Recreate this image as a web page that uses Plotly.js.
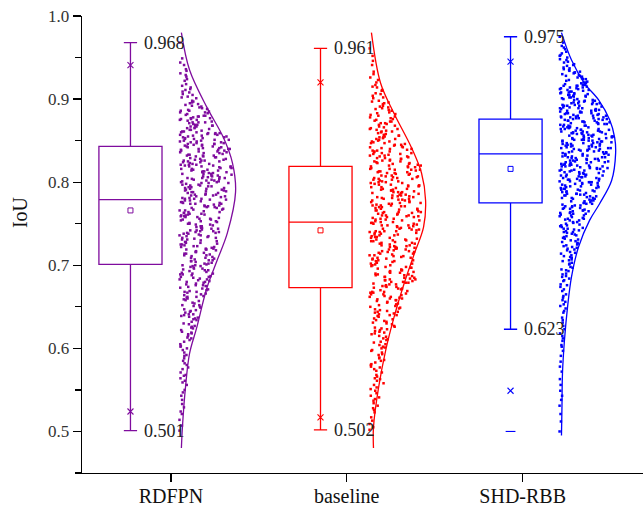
<!DOCTYPE html>
<html>
<head>
<meta charset="utf-8">
<script src="https://cdn.plot.ly/plotly-3.0.1.min.js"></script>
<style>html,body{margin:0;padding:0;background:#fff;}#chart{width:643px;height:508px;}</style>
</head>
<body>
<div id="chart"></div>
<script>
// ---------- data ----------
const categories = ['RDFPN', 'baseline', 'SHD-RBB'];
const q1Vals = [0.701, 0.673, 0.775];
const medianVals = [0.779, 0.752, 0.834];
const q3Vals = [0.843, 0.819, 0.876];
const meanVals = [0.766, 0.742, 0.816];
const lowerWhisker = [0.501, 0.502, 0.623];
const upperWhisker = [0.968, 0.961, 0.975];
const p1Vals = [0.524, 0.517, 0.549];
const p99Vals = [0.941, 0.920, 0.945];
const minVals = [0.501, 0.502, 0.500];
const maxVals = [0.968, 0.961, 0.975];

const rdfpnPoints = [0.501,0.514,
0.524,0.529,0.538,
0.543,0.547,0.556,
0.561,0.567,0.568,0.577,
0.582,0.585,0.591,0.592,0.598,
0.602,0.603,0.608,0.612,0.613,0.617,0.619,
0.620,0.624,0.625,0.627,0.630,0.634,0.635,0.636,0.639,
0.641,0.641,0.644,0.646,0.647,0.650,0.652,0.652,0.655,0.658,0.659,
0.660,0.662,0.662,0.664,0.667,0.668,0.668,0.671,0.673,0.674,0.676,0.676,0.678,0.679,
0.680,0.681,0.683,0.683,0.685,0.686,0.687,0.689,0.690,0.690,0.692,0.694,0.695,0.696,0.697,0.699,0.699,
0.700,0.701,0.702,0.703,0.705,0.706,0.706,0.708,0.709,0.710,0.712,0.713,0.714,0.715,0.716,0.717,0.719,0.719,
0.720,0.721,0.722,0.723,0.724,0.725,0.727,0.727,0.728,0.729,0.731,0.732,0.733,0.734,0.735,0.736,0.737,0.738,0.739,
0.740,0.741,0.741,0.742,0.743,0.744,0.745,0.746,0.747,0.748,0.749,0.750,0.751,0.753,0.754,0.755,0.756,0.757,0.758,0.759,
0.760,0.761,0.761,0.762,0.763,0.764,0.765,0.766,0.767,0.768,0.769,0.770,0.771,0.772,0.773,0.774,0.774,0.775,0.776,0.777,0.778,0.779,
0.780,0.780,0.781,0.782,0.783,0.784,0.785,0.785,0.786,0.787,0.788,0.789,0.790,0.791,0.792,0.792,0.793,0.794,0.795,0.796,0.797,0.798,0.799,0.799,
0.800,0.801,0.801,0.802,0.803,0.804,0.805,0.805,0.806,0.807,0.808,0.809,0.810,0.810,0.811,0.812,0.813,0.814,0.815,0.815,0.816,0.817,0.818,0.819,0.819,
0.820,0.821,0.821,0.822,0.823,0.824,0.825,0.826,0.826,0.827,0.828,0.829,0.830,0.831,0.832,0.832,0.833,0.834,0.835,0.836,0.837,0.838,0.838,0.839,
0.840,0.840,0.841,0.842,0.843,0.843,0.844,0.845,0.846,0.846,0.847,0.848,0.849,0.850,0.850,0.851,0.852,0.853,0.854,0.854,0.855,0.856,0.857,0.858,0.859,0.859,
0.860,0.861,0.861,0.863,0.864,0.865,0.867,0.867,0.868,0.869,0.871,0.872,0.872,0.874,0.875,0.876,0.876,0.877,0.879,0.879,
0.880,0.881,0.883,0.884,0.885,0.886,0.888,0.889,0.891,0.893,0.894,0.896,0.898,
0.901,0.903,0.906,0.909,0.911,0.914,0.918,
0.922,0.927,0.931,0.936,
0.941,0.949,
0.968,
0.507,0.521,0.533,0.550,0.559,0.564,0.571,0.575,0.580,0.588,0.595,
0.600,0.605,0.610,0.615,0.618,0.622,0.626,0.629,0.632,0.637,0.638,
0.640,0.643,0.645,0.649,0.651,0.654,0.657,
0.661,0.663,0.665,0.666,0.669,0.670,0.672,0.675,0.677,
0.680,0.682,0.684,0.686,0.688,0.689,0.691,0.693,0.694,0.696,0.698,
0.700,0.702,0.704,0.705,0.707,0.709,0.711,0.712,0.714,0.716,0.718,0.719,
0.720,0.722,0.723,0.725,0.726,0.728,0.730,0.731,0.733,0.735,0.736,0.738,0.739,
0.740,0.742,0.744,0.745,0.747,0.749,0.750,0.752,0.753,0.755,0.756,0.758,0.759,
0.760,0.762,0.763,0.764,0.766,0.767,0.769,0.770,0.771,0.772,0.774,0.775,0.776,0.778,0.779,
0.780,0.781,0.783,0.784,0.785,0.787,0.788,0.789,0.790,0.791,0.793,0.794,0.795,0.796,0.797,0.799,
0.800,0.802,0.803,0.804,0.805,0.806,0.807,0.808,0.810,0.811,0.812,0.813,0.814,0.816,0.817,0.818,0.819,
0.820,0.821,0.822,0.824,0.825,0.826,0.827,0.828,0.830,0.831,0.832,0.833,0.835,0.836,0.837,0.839,
0.840,0.841,0.842,0.844,0.845,0.846,0.847,0.848,0.849,0.851,0.852,0.853,0.855,0.856,0.857,0.858,0.859,
0.860,0.862,0.863,0.865,0.866,0.868,0.869,0.870,0.872,0.873,0.875,0.877,0.878,
0.880,0.882,0.884,0.886,0.887,0.890,0.892,0.895,0.897,
0.902,0.905,0.908,0.912,0.916,0.924,0.929,0.934,0.944];

const baselinePoints = [0.502,0.509,0.517,
0.523,0.528,0.534,0.539,
0.541,0.546,0.549,0.553,0.558,
0.561,0.564,0.568,0.571,0.575,0.578,
0.581,0.583,0.586,0.589,0.592,0.595,0.598,
0.601,0.602,0.605,0.607,0.610,0.612,0.614,0.617,0.619,
0.620,0.622,0.623,0.625,0.627,0.629,0.631,0.633,0.634,0.636,0.638,
0.640,0.641,0.643,0.644,0.645,0.647,0.648,0.650,0.652,0.653,0.655,0.656,0.658,0.659,
0.660,0.661,0.662,0.663,0.665,0.666,0.667,0.668,0.669,0.671,0.672,0.673,0.674,0.675,0.676,0.677,0.678,0.679,
0.680,0.681,0.682,0.683,0.684,0.685,0.686,0.687,0.688,0.689,0.690,0.691,0.692,0.693,0.694,0.696,0.697,0.698,0.699,
0.700,0.701,0.702,0.703,0.704,0.705,0.706,0.707,0.708,0.709,0.710,0.711,0.712,0.713,0.714,0.715,0.716,0.717,0.718,0.719,
0.720,0.721,0.721,0.722,0.723,0.724,0.725,0.726,0.727,0.728,0.729,0.730,0.731,0.732,0.733,0.734,0.735,0.736,0.737,0.738,0.739,
0.740,0.741,0.741,0.742,0.743,0.744,0.745,0.746,0.747,0.748,0.748,0.749,0.750,0.751,0.752,0.753,0.754,0.755,0.756,0.757,0.758,0.759,
0.760,0.760,0.761,0.762,0.763,0.764,0.764,0.765,0.766,0.767,0.768,0.769,0.770,0.771,0.772,0.772,0.773,0.774,0.775,0.776,0.777,0.778,0.779,
0.780,0.781,0.781,0.782,0.783,0.784,0.785,0.786,0.787,0.788,0.788,0.789,0.790,0.791,0.792,0.793,0.794,0.795,0.796,0.796,0.797,0.798,0.799,
0.800,0.801,0.802,0.803,0.804,0.805,0.805,0.806,0.807,0.808,0.809,0.810,0.811,0.812,0.813,0.814,0.815,0.815,0.816,0.817,0.818,0.819,
0.820,0.821,0.822,0.823,0.824,0.825,0.826,0.827,0.828,0.829,0.830,0.831,0.832,0.833,0.834,0.835,0.836,0.837,0.838,0.839,
0.840,0.841,0.842,0.844,0.845,0.846,0.847,0.848,0.849,0.851,0.852,0.853,0.854,0.855,0.856,0.857,0.859,
0.860,0.861,0.863,0.864,0.865,0.867,0.868,0.870,0.871,0.873,0.874,0.876,0.877,0.879,
0.880,0.882,0.884,0.886,0.888,0.890,0.892,0.894,0.896,0.898,
0.901,0.904,0.907,0.911,0.914,0.917,
0.920,0.926,0.933,
0.941,0.952,
0.961,
0.505,0.513,0.526,0.531,0.537,0.543,0.551,0.556,0.563,0.566,0.573,0.577,
0.580,0.585,0.588,0.593,0.597,0.600,0.604,0.608,0.611,0.615,0.618,
0.621,0.624,0.626,0.630,0.632,0.635,0.639,
0.640,0.642,0.644,0.646,0.649,0.651,0.654,0.657,0.658,
0.660,0.662,0.664,0.665,0.667,0.668,0.670,0.672,0.674,0.675,0.677,0.679,
0.680,0.682,0.683,0.685,0.686,0.688,0.689,0.691,0.692,0.694,0.695,0.697,0.698,
0.700,0.702,0.703,0.705,0.706,0.708,0.709,0.711,0.712,0.714,0.716,0.717,0.719,
0.720,0.722,0.723,0.724,0.726,0.727,0.729,0.730,0.731,0.733,0.734,0.736,0.737,0.739,
0.740,0.741,0.743,0.744,0.745,0.747,0.748,0.750,0.751,0.752,0.754,0.755,0.756,0.758,0.759,
0.760,0.762,0.763,0.764,0.766,0.767,0.768,0.770,0.771,0.772,0.774,0.775,0.776,0.778,0.779,
0.780,0.782,0.783,0.784,0.785,0.787,0.788,0.790,0.791,0.792,0.794,0.795,0.796,0.797,0.799,
0.800,0.801,0.803,0.804,0.806,0.807,0.808,0.810,0.811,0.812,0.813,0.815,0.816,0.818,0.819,
0.820,0.822,0.823,0.825,0.826,0.828,0.829,0.831,0.832,0.834,0.835,0.837,0.838,
0.840,0.842,0.843,0.845,0.847,0.849,0.850,0.852,0.854,0.856,0.858,
0.861,0.862,0.864,0.866,0.869,0.871,0.873,0.875,0.878,
0.881,0.883,0.887,0.889,0.891,0.895,0.897,
0.902,0.906,0.910,0.915,0.923,0.930,0.946];

const shdPoints = [0.500,0.531,0.549,0.572,0.591,
0.604,0.615,
0.623,0.631,0.637,
0.643,0.648,0.653,0.658,
0.661,0.665,0.669,0.674,0.677,
0.681,0.684,0.687,0.690,0.693,0.695,0.698,
0.701,0.703,0.705,0.707,0.710,0.712,0.714,0.716,0.718,
0.720,0.722,0.723,0.725,0.727,0.728,0.730,0.732,0.733,0.735,0.737,0.739,
0.740,0.741,0.743,0.744,0.745,0.747,0.748,0.749,0.751,0.752,0.754,0.755,0.756,0.757,0.759,
0.760,0.761,0.762,0.763,0.764,0.765,0.766,0.767,0.768,0.769,0.770,0.771,0.772,0.773,0.774,0.775,0.776,0.777,0.778,0.779,
0.780,0.781,0.781,0.782,0.783,0.784,0.785,0.786,0.786,0.787,0.788,0.789,0.790,0.791,0.791,0.792,0.793,0.794,0.795,0.796,0.796,0.797,0.798,0.799,
0.800,0.800,0.801,0.802,0.803,0.803,0.804,0.805,0.806,0.807,0.807,0.808,0.809,0.810,0.810,0.811,0.812,0.813,0.814,0.814,0.815,0.816,0.817,0.817,0.818,0.819,0.819,
0.820,0.820,0.821,0.822,0.822,0.823,0.824,0.824,0.825,0.826,0.826,0.827,0.828,0.828,0.829,0.830,0.830,0.831,0.832,0.832,0.833,0.834,0.834,0.835,0.836,0.836,0.837,0.838,0.838,0.839,
0.840,0.840,0.841,0.841,0.842,0.843,0.843,0.844,0.844,0.845,0.846,0.846,0.847,0.847,0.848,0.849,0.849,0.850,0.850,0.851,0.852,0.852,0.853,0.853,0.854,0.855,0.855,0.856,0.856,0.857,0.858,0.858,0.859,
0.860,0.860,0.861,0.861,0.862,0.863,0.863,0.864,0.864,0.865,0.866,0.866,0.867,0.868,0.868,0.869,0.870,0.870,0.871,0.872,0.872,0.873,0.874,0.874,0.875,0.876,0.876,0.877,0.878,0.878,0.879,
0.880,0.880,0.881,0.882,0.883,0.883,0.884,0.885,0.886,0.886,0.887,0.888,0.889,0.889,0.890,0.891,0.892,0.892,0.893,0.894,0.895,0.895,0.896,0.897,0.898,0.898,0.899,
0.900,0.901,0.902,0.903,0.904,0.905,0.906,0.906,0.907,0.908,0.909,0.910,0.911,0.912,0.913,0.914,0.915,0.916,0.916,0.917,0.918,0.919,
0.920,0.921,0.923,0.924,0.925,0.927,0.928,0.929,0.931,0.932,0.933,0.935,0.936,0.938,
0.940,0.942,0.945,0.947,0.950,0.953,0.957,
0.962,0.968,0.975,
0.512,0.521,0.538,0.543,0.556,0.563,0.578,0.584,0.597,0.602,0.609,0.612,0.618,
0.627,0.634,0.645,0.651,0.656,0.663,0.671,0.676,
0.682,0.686,0.689,0.694,0.697,0.702,0.706,0.709,0.711,0.715,0.719,
0.721,0.724,0.726,0.729,0.731,0.734,0.736,0.738,
0.740,0.742,0.744,0.746,0.748,0.750,0.752,0.754,0.756,0.758,
0.760,0.762,0.763,0.765,0.766,0.768,0.769,0.771,0.772,0.774,0.775,0.777,0.778,
0.780,0.781,0.783,0.784,0.785,0.786,0.788,0.789,0.790,0.792,0.793,0.794,0.795,0.797,0.798,0.799,
0.800,0.801,0.802,0.804,0.805,0.806,0.807,0.808,0.809,0.811,0.812,0.813,0.814,0.815,0.816,0.817,0.818,0.819,
0.820,0.821,0.822,0.823,0.824,0.825,0.826,0.827,0.828,0.829,0.830,0.831,0.832,0.833,0.834,0.835,0.836,0.837,0.838,0.839,
0.840,0.841,0.842,0.843,0.844,0.845,0.846,0.847,0.848,0.849,0.850,0.851,0.851,0.852,0.853,0.854,0.855,0.856,0.857,0.858,0.859,0.859,
0.860,0.861,0.862,0.863,0.864,0.865,0.866,0.867,0.868,0.869,0.870,0.871,0.872,0.873,0.874,0.875,0.876,0.877,0.877,0.878,0.879,
0.880,0.881,0.882,0.883,0.884,0.885,0.886,0.887,0.888,0.889,0.890,0.892,0.893,0.894,0.895,0.896,0.897,0.899,
0.900,0.902,0.903,0.904,0.905,0.907,0.908,0.909,0.911,0.912,0.913,0.914,0.916,0.917,0.919,
0.920,0.922,0.924,0.926,0.928,0.930,0.932,0.934,0.937,
0.941,0.944,0.948,0.952,0.955,0.960,0.964];

// fitted distribution curves (value level, relative density)
const rdfpnCurveY = [0.980, 0.935, 0.890, 0.854, 0.823, 0.788, 0.739, 0.706, 0.673, 0.625, 0.594, 0.553, 0.505, 0.480];
const rdfpnCurveD = [0, 8, 25, 41, 50, 53, 45, 35, 25, 15, 8, 4, 1, 0];
const baselineCurveY = [0.980, 0.919, 0.883, 0.842, 0.811, 0.778, 0.746, 0.714, 0.678, 0.637, 0.598, 0.553, 0.505, 0.480];
const baselineCurveD = [0, 9, 22, 39, 49, 53, 51, 42, 32, 22, 14, 7, 2, 2];
const shdCurveY = [0.980, 0.947, 0.919, 0.899, 0.875, 0.854, 0.835, 0.802, 0.774, 0.754, 0.722, 0.686, 0.649, 0.610, 0.570, 0.530, 0.495];
const shdCurveD = [0, 10, 23, 37, 48, 53, 54, 50, 38, 28, 17, 10, 6, 3, 1, 0.5, 0];

const pointSets = [rdfpnPoints, baselinePoints, shdPoints];
const curveYs = [rdfpnCurveY, baselineCurveY, shdCurveY];
const curveDs = [rdfpnCurveD, baselineCurveD, shdCurveD];

// ---------- layout / style constants ----------
const colors = ['#7f0c9e', '#ff0000', '#0000ff'];
const boxPos = [0, 1, 2];
const tickPos = [0.213, 1.138, 2.064];
const cloudOffset = 0.258;
const curveOffset = 0.268;
const spreadWidth = 0.285;
const serif = '"Liberation Serif", "Times New Roman", serif';

const traces = [];
const annotations = [];

for (let g = 0; g < 3; g++) {
  const col = colors[g];
  traces.push({
    type: 'box', x: [boxPos[g]],
    q1: [q1Vals[g]], median: [medianVals[g]], q3: [q3Vals[g]],
    lowerfence: [lowerWhisker[g]], upperfence: [upperWhisker[g]],
    width: 0.332, whiskerwidth: 0.21, boxpoints: false,
    line: {color: col, width: 1.3}, fillcolor: 'rgba(0,0,0,0)',
    hoverinfo: 'skip', showlegend: false
  });
  traces.push({
    type: 'scatter', mode: 'markers', x: [boxPos[g]], y: [meanVals[g]],
    marker: {symbol: 'square-open', size: 5, color: col, line: {width: 1, color: col}},
    hoverinfo: 'skip', showlegend: false
  });
  traces.push({
    type: 'scatter', mode: 'markers', x: [boxPos[g], boxPos[g]], y: [p1Vals[g], p99Vals[g]],
    marker: {symbol: 'x-thin-open', size: 6, color: col, line: {width: 1.1, color: col}},
    hoverinfo: 'skip', showlegend: false
  });
  const extra = [minVals[g], maxVals[g]].filter(v => v < lowerWhisker[g] - 1e-9 || v > upperWhisker[g] + 1e-9);
  if (extra.length) {
    traces.push({
      type: 'scatter', mode: 'markers', x: extra.map(() => boxPos[g]), y: extra,
      marker: {symbol: 'line-ew-open', size: 7, color: col, line: {width: 1.1, color: col}},
      hoverinfo: 'skip', showlegend: false
    });
  }
  // data cloud: horizontal spread proportional to local density (deterministic Weyl sequence)
  const pts = pointSets[g];
  const counts = pts.map(v => pts.filter(w => Math.abs(w - v) <= 0.01).length);
  const maxCount = Math.max(...counts);
  const cx = pts.map((v, i) => {
    const u = (i * i * 0.6180339887 + i * 0.3819660113) % 1;
    return boxPos[g] + cloudOffset + u * (counts[i] / maxCount) * spreadWidth;
  });
  traces.push({
    type: 'scatter', mode: 'markers', x: cx, y: pts,
    marker: {symbol: 'square', size: 2.5, color: col, line: {width: 0}},
    hoverinfo: 'skip', showlegend: false
  });
  const cd = curveDs[g];
  const maxD = Math.max(...cd);
  traces.push({
    type: 'scatter', mode: 'lines',
    x: cd.map(d => boxPos[g] + curveOffset + d / maxD * spreadWidth),
    y: curveYs[g],
    line: {color: col, width: 1.3, shape: 'spline', smoothing: 1},
    hoverinfo: 'skip', showlegend: false
  });
  [upperWhisker[g], lowerWhisker[g]].forEach(v => {
    annotations.push({
      x: boxPos[g] + 0.06, y: v, xref: 'x', yref: 'y',
      text: v.toFixed(3), showarrow: false, xanchor: 'left', yanchor: 'middle',
      font: {family: serif, size: 18, color: '#222'}
    });
  });
}

annotations.push({
  xref: 'paper', yref: 'paper', x: -0.1105, y: 0.571,
  text: 'IoU', textangle: -90, showarrow: false,
  xanchor: 'center', yanchor: 'middle',
  font: {family: serif, size: 20, color: '#111'}
});

const layout = {
  width: 643, height: 508,
  margin: {l: 82, r: 0, t: 16, b: 35, pad: 0},
  paper_bgcolor: '#fff', plot_bgcolor: '#fff',
  showlegend: false,
  xaxis: {
    range: [-0.255, 2.697], showgrid: false, zeroline: false,
    showline: true, linecolor: '#000', linewidth: 1.3,
    ticks: 'outside', ticklen: 8, tickwidth: 1.3, tickcolor: '#000',
    tickmode: 'array', tickvals: tickPos, ticktext: categories,
    ticklabelstandoff: -3,
    tickfont: {family: serif, size: 20, color: '#111'}
  },
  yaxis: {
    range: [0.45, 1.0], showgrid: false, zeroline: false,
    showline: true, linecolor: '#000', linewidth: 1.3,
    ticks: 'outside', ticklen: 8, tickwidth: 1.3, tickcolor: '#000',
    tick0: 0, dtick: 0.1, tickformat: '.1f',
    minor: {dtick: 0.05, ticks: 'outside', ticklen: 6, tickwidth: 1.3, tickcolor: '#000', showgrid: false},
    tickfont: {family: serif, size: 17, color: '#333'}
  },
  annotations: annotations
};

Plotly.newPlot('chart', traces, layout, {displayModeBar: false, staticPlot: true});
</script>
</body>
</html>
